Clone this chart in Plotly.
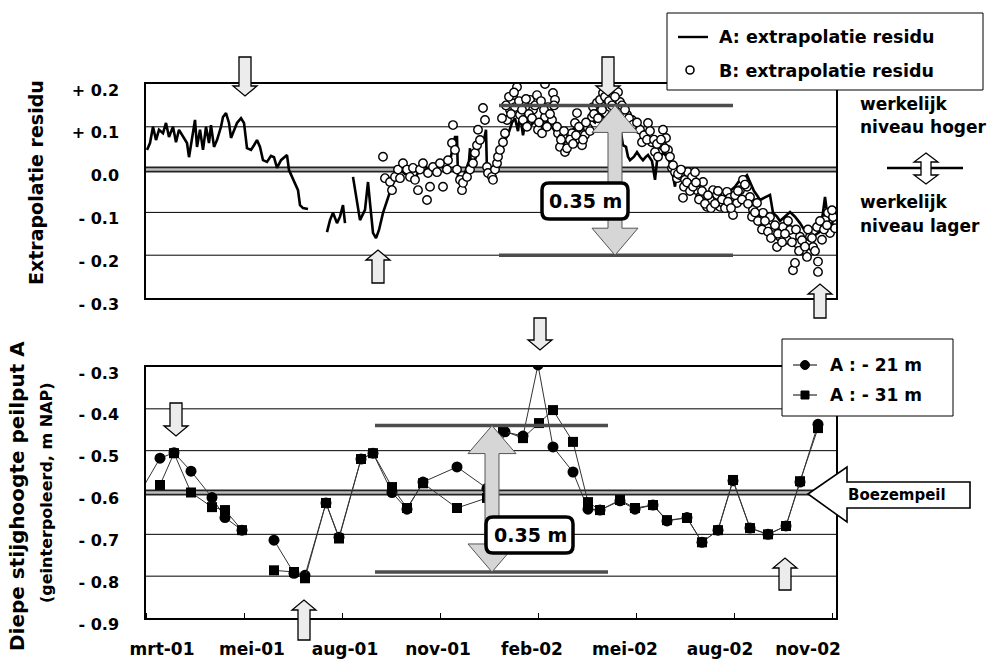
import pandas as pd
import plotly.graph_objects as go

W, H = 994, 664
T0 = pd.Timestamp("2001-01-15")          # day 0 of the series
FONT = "DejaVu Sans"

# ---------------------------------------------------------------- data
# Series A: extrapolation residual (m), daily-ish record, None = gap
a_dag = [1, 4, 7, 10, 13, 17, 20, 23, 27, 30, 33, 37, 41, 43, 47, 49, 51, 54, 57, 60,
         63, 65, 68, 71, 75, 77, 80, 83, 85, 88, 91, 95, 98, 101, 105, 108, 111, 114, 117, 121,
         125, 128, 131, 135, 138, 141, 143, 146, 149, 152, 154, 157, 162, None,
         181, 184, 187, 191, 194, 197, 199, None,
         207, 211, 214, 219, 222, 224, 227, 230, 233, 237, 241, 244, 247, 251, 254, 259, 264, 269,
         274, 279, 284, 289, 294, 299, 304, 309, 311, 312, 316, 320, 323, 324, 325, 330, 334, 338,
         340, 341, 344, 349, 354, 359, 362, 366, 369, 372, 374, 377, 380, 384, 389, 394, 399, 404,
         409, 414, 419, 424, 429, 431, 434, 439, 444, 449, 454, 459, 464, 467, 471, 474, 477, 480,
         482, 484, 488, 491, 494, 497, 500, 502, 506, 509, 511, 514, 517, 521, 525, 529, 531, 534,
         539, 544, 549, 554, 559, 564, 567, 571, 574, 579, 584, 589, 594, 598, 601, 604, 608, 611,
         614, 619, 624, 627, 631, 634, 639, 644, 649, 654, 658, 661, 664, 667, 671, 674, 677, 679,
         681, 684, 687, 689]
a_res = [0.046, 0.062, 0.100, 0.069, 0.093, 0.085, 0.109, 0.076, 0.100, 0.064, 0.093, 0.076, 0.062, 0.029, 0.085, 0.116, 0.053, 0.093, 0.046, 0.100,
         0.062, 0.104, 0.053, 0.069, 0.100, 0.123, 0.132, 0.109, 0.074, 0.093, 0.109, 0.120, 0.109, 0.050, 0.046, 0.057, 0.069, 0.053, 0.022, 0.018,
         0.032, 0.029, 0.004, 0.022, 0.027, 0.034, -0.001, -0.017, -0.036, -0.048, -0.083, -0.090, -0.092, None,
         -0.146, -0.118, -0.101, -0.125, -0.110, -0.083, -0.125, None,
         -0.017, -0.078, -0.118, -0.094, -0.029, -0.078, -0.148, -0.160, -0.141, -0.101, -0.071, -0.050, -0.031, -0.020, 0.000, -0.010, -0.005, -0.020,
         0.000, 0.010, -0.010, 0.005, 0.010, 0.000, 0.020, 0.076, 0.076, -0.020, -0.030, 0.000, 0.020, 0.050, 0.000, 0.030, 0.060, 0.070,
         0.093, -0.008, 0.000, 0.010, 0.040, 0.070, 0.081, 0.110, 0.120, 0.090, 0.130, 0.080, 0.120, 0.100, 0.115, 0.090, 0.120, 0.105,
         0.090, 0.075, 0.060, 0.080, 0.100, 0.109, 0.090, 0.100, 0.120, 0.110, 0.130, 0.120, 0.135, 0.140, 0.130, 0.100, 0.057, 0.053,
         0.030, 0.022, 0.030, 0.041, 0.030, 0.022, 0.030, 0.034, 0.020, -0.024, 0.020, 0.030, 0.039, 0.030, 0.010, -0.040, 0.000, -0.010,
         -0.030, -0.020, -0.040, -0.050, -0.060, -0.050, -0.055, -0.070, -0.080, -0.060, -0.050, -0.040, -0.024, -0.020, -0.013, -0.030, -0.050, -0.060,
         -0.071, -0.065, -0.059, -0.101, -0.110, -0.120, -0.110, -0.099, -0.110, -0.125, -0.140, -0.148, -0.150, -0.157, -0.150, -0.145, -0.100, -0.064,
         -0.100, -0.141, -0.120, -0.110]

# Series B: extrapolation residual (m), individual readings
b_dag = [237, 239, 244, 246, 249, 252, 254, 257, 261, 264, 267, 269, 272, 274, 277, 281, 282, 284, 287, 291,
         294, 297, 301, 302, 306, 307, 309, 311, 314, 316, 317, 321, 324, 327, 329, 331, 332, 334, 337, 339,
         341, 342, 346, 347, 349, 351, 352, 354, 357, 359, 361, 364, 366, 367, 371, 369, 374, 377, 381, 384,
         387, 391, 392, 396, 399, 399, 402, 406, 407, 409, 412, 414, 417, 419, 422, 426, 429, 431, 434, 436,
         439, 442, 446, 447, 451, 454, 457, 461, 464, 472, 474, 481, 486, 489, 494, 496, 499, 502, 506, 509,
         512, 516, 517, 520, 522, 526, 529, 531, 534, 537, 539, 542, 546, 549, 551, 554, 557, 561, 564, 567,
         571, 574, 577, 581, 584, 587, 591, 594, 597, 601, 604, 607, 611, 614, 617, 621, 624, 627, 631, 634,
         637, 641, 644, 647, 649, 651, 654, 657, 661, 664, 667, 671, 672, 672, 676, 679, 682, 684, 687, 689,
         356, 360, 363, 365, 368, 373, 376, 380, 383, 386, 389, 393, 395, 398, 401, 404, 408, 411, 415, 418,
         421, 424, 427, 430, 433, 437, 440, 444, 448, 452, 456, 459, 463, 466, 469, 476, 479, 483, 487, 491,
         498, 501, 504, 508, 511, 515, 519, 524, 527, 532, 535, 538, 541, 544, 547, 550, 553, 556, 559, 562,
         565, 569, 572, 576, 579, 582, 585, 589, 592, 596, 599, 602, 606, 609, 612, 616, 619, 622, 625, 629,
         632, 636, 639, 642, 646, 650, 653, 656, 659, 662, 666, 669, 674, 678, 681, 686]
b_res = [0.030, -0.020, -0.029, -0.048, -0.017, 0.000, -0.020, 0.015, 0.000, -0.017, 0.004, -0.024, -0.048, 0.000, 0.015, -0.071, -0.008, -0.040, 0.006, -0.006,
         0.015, -0.040, 0.000, 0.022, 0.062, 0.104, 0.046, 0.000, -0.024, -0.048, -0.031, -0.017, 0.000, 0.015, 0.039, 0.057, 0.093, 0.069, 0.144, 0.116,
         0.006, -0.008, -0.017, -0.024, 0.000, 0.015, 0.030, 0.046, 0.064, 0.085, 0.116, 0.140, 0.158, 0.174, 0.193, 0.146, 0.128, 0.116, 0.100, 0.163,
         0.140, 0.174, 0.093, 0.085, 0.200, 0.123, 0.146, 0.116, 0.179, 0.163, 0.085, 0.053, 0.076, 0.041, 0.057, 0.085, 0.109, 0.132, 0.069, 0.057,
         0.081, 0.097, 0.123, 0.146, 0.156, 0.163, 0.179, 0.163, 0.146, 0.181, 0.158, 0.128, 0.116, 0.100, 0.093, 0.064, 0.081, 0.109, 0.064, 0.041,
         0.030, 0.057, 0.093, 0.074, 0.046, 0.004, -0.006, -0.020, -0.013, -0.066, -0.024, -0.006, -0.017, -0.006, -0.048, -0.064, -0.029, -0.087, -0.071, -0.048,
         -0.059, -0.087, -0.078, -0.052, -0.066, -0.106, -0.078, -0.048, -0.024, -0.040, -0.064, -0.094, -0.078, -0.118, -0.101, -0.134, -0.111, -0.153, -0.181, -0.157,
         -0.134, -0.164, -0.141, -0.235, -0.218, -0.172, -0.157, -0.188, -0.204, -0.157, -0.181, -0.134, -0.215, -0.239, -0.164, -0.118, -0.101, -0.148, -0.111, -0.137,
         0.120, 0.150, 0.170, 0.130, 0.180, 0.160, 0.140, 0.165, 0.130, 0.120, 0.150, 0.110, 0.160, 0.140, 0.100, 0.130, 0.150, 0.100, 0.070, 0.090,
         0.050, 0.070, 0.060, 0.080, 0.100, 0.070, 0.110, 0.090, 0.130, 0.120, 0.140, 0.170, 0.160, 0.150, 0.170, 0.150, 0.140, 0.120, 0.105, 0.110,
         0.080, 0.070, 0.090, 0.070, 0.060, 0.070, 0.050, 0.030, 0.010, -0.010, 0.000, -0.040, -0.030, -0.050, -0.040, -0.030, -0.070, -0.050, -0.080, -0.060,
         -0.090, -0.080, -0.050, -0.070, -0.090, -0.075, -0.090, -0.060, -0.050, -0.070, -0.035, -0.080, -0.110, -0.100, -0.120, -0.140, -0.120, -0.145, -0.160, -0.130,
         -0.150, -0.170, -0.150, -0.120, -0.170, -0.140, -0.190, -0.165, -0.180, -0.140, -0.160, -0.190, -0.120, -0.140, -0.130, -0.095]

# Deep piezometer A, filter at -21 m and -31 m (m NAP)
p21_dag = [-6, 14, 28, 45, 66, 79, 96, None, 128, 148, 159, 180, 193, 215, 227, 246, 261, 277, 311, 341,
           359, 377, 392, 407, 427, 442, 454, 474, 489, 507, 521, 541, 556, 572, 587, 604, 622, 640, 654, 672]
p21_niv = [-0.600, -0.518, -0.505, -0.549, -0.612, -0.660, -0.690, None, -0.714, -0.793, -0.798, -0.625, -0.707, -0.520, -0.506, -0.600, -0.640, -0.575, -0.539, -0.590,
           -0.455, -0.465, -0.295, -0.491, -0.551, -0.640, -0.642, -0.620, -0.640, -0.630, -0.668, -0.660, -0.719, -0.690, -0.572, -0.685, -0.700, -0.680, -0.575, -0.437]
p31_dag = [14, 28, 45, 66, 79, 96, None, 128, 148, 159, 180, 193, 215, 227, 246, 261, 277, 311, 341,
           357, 377, 393, 407, 427, 442, 454, 474, 489, 507, 521, 541, 556, 572, 587, 604, 622, 640, 654, 672]
p31_niv = [-0.582, -0.506, -0.600, -0.635, -0.642, -0.690, None, -0.786, -0.790, -0.805, -0.625, -0.710, -0.520, -0.506, -0.587, -0.637, -0.578, -0.637, -0.613,
           -0.452, -0.470, -0.434, -0.403, -0.479, -0.623, -0.642, -0.618, -0.637, -0.630, -0.666, -0.661, -0.719, -0.690, -0.570, -0.685, -0.700, -0.680, -0.573, -0.446]

# reference levels and the 0.35 m ranges
res_ref = 0.0
res_band = [0.15, -0.20]
res_band_dag = [353, 587]
boezem = -0.6
niv_band = [-0.44, -0.79]
niv_band_dag = [229, 462]

x_tick_dag = [16, 106, 199, 292, 386, 479, 574, 662]
x_tick_txt = ["mrt-01", "mei-01", "aug-01", "nov-01", "feb-02", "mei-02", "aug-02", "nov-02"]
res_ticks = [0.2, 0.1, 0.0, -0.1, -0.2, -0.3]
res_ticktxt = ["+ 0.2", "+ 0.1", "0.0", "- 0.1", "- 0.2", "- 0.3"]
niv_ticks = [-0.3, -0.4, -0.5, -0.6, -0.7, -0.8, -0.9]
niv_ticktxt = ["- 0.3", "- 0.4", "- 0.5", "- 0.6", "- 0.7", "- 0.8", "- 0.9"]
x_span_days = 690


# ---------------------------------------------------------------- helpers
def to_date(d):
    return None if d is None else (T0 + pd.Timedelta(days=d)).strftime("%Y-%m-%d")


def dates(days):
    return [to_date(d) for d in days]


def X(px):
    return px / W


def Y(py):
    return 1 - py / H


def path_px(pts):
    return "M " + " L ".join(f"{X(x):.5f},{Y(y):.5f}" for x, y in pts) + " Z"


def v_arrow(cx, y_tail, y_tip, shaft=12, head=24, hl=10):
    s = 1 if y_tip > y_tail else -1
    base = y_tip - s * hl
    return [(cx - shaft / 2, y_tail), (cx + shaft / 2, y_tail), (cx + shaft / 2, base),
            (cx + head / 2, base), (cx, y_tip), (cx - head / 2, base), (cx - shaft / 2, base)]


def big_arrow_path(cx, v_top, v_bot, shaft, head, hl):
    # x in paper fraction (from pixels), y in data units
    pts = [(cx, v_top), (cx + head / 2, v_top - hl), (cx + shaft / 2, v_top - hl),
           (cx + shaft / 2, v_bot + hl), (cx + head / 2, v_bot + hl), (cx, v_bot),
           (cx - head / 2, v_bot + hl), (cx - shaft / 2, v_bot + hl),
           (cx - shaft / 2, v_top - hl), (cx - head / 2, v_top - hl)]
    return "M " + " L ".join(f"{X(x):.5f},{y:.5f}" for x, y in pts) + " Z"


def round_rect(x0, y0, x1, y1, r):
    p = lambda x, y: f"{X(x):.5f},{Y(y):.5f}"
    return (f"M {p(x0 + r, y0)} L {p(x1 - r, y0)} Q {p(x1, y0)} {p(x1, y0 + r)} "
            f"L {p(x1, y1 - r)} Q {p(x1, y1)} {p(x1 - r, y1)} L {p(x0 + r, y1)} "
            f"Q {p(x0, y1)} {p(x0, y1 - r)} L {p(x0, y0 + r)} Q {p(x0, y0)} {p(x0 + r, y0)} Z")


def bold(size):
    return dict(family=FONT, size=size, color="black", weight="bold")


# ---------------------------------------------------------------- traces
fig = go.Figure()
fig.add_trace(go.Scatter(x=dates(a_dag), y=a_res, mode="lines", xaxis="x2", yaxis="y2",
                         line=dict(color="black", width=2.6), connectgaps=False,
                         name="A: extrapolatie residu"))
fig.add_trace(go.Scatter(x=dates(b_dag), y=b_res, mode="markers", xaxis="x2", yaxis="y2",
                         marker=dict(symbol="circle", size=8.5, color="white",
                                     line=dict(color="black", width=1.4)),
                         name="B: extrapolatie residu"))
fig.add_trace(go.Scatter(x=dates(p21_dag), y=p21_niv, mode="lines+markers", connectgaps=False,
                         line=dict(color="#333333", width=1),
                         marker=dict(symbol="circle", size=11, color="black"),
                         name="A : - 21 m"))
fig.add_trace(go.Scatter(x=dates(p31_dag), y=p31_niv, mode="lines+markers", connectgaps=False,
                         line=dict(color="#333333", width=1),
                         marker=dict(symbol="square", size=10, color="black"),
                         name="A : - 31 m"))

# ---------------------------------------------------------------- axes
x_dom = [X(146), X(836)]
x_range = [to_date(0), to_date(x_span_days)]
common_x = dict(domain=x_dom, range=x_range, type="date", showgrid=False, zeroline=False,
                showline=True, linecolor="black", linewidth=1.5, mirror=True, ticks="",
                automargin=False)
common_y = dict(ticks="", tickfont=bold(16), ticklabelstandoff=22, ticklabelshift=6,
                showgrid=False, zeroline=False, automargin=False,
                showline=True, linecolor="black", linewidth=1.5, mirror=True)
fig.update_layout(
    xaxis=dict(**common_x, anchor="y", tickvals=dates(x_tick_dag), ticktext=x_tick_txt,
               tickfont=bold(17), ticklabelstandoff=15,
               minor=dict(ticks="inside", ticklen=5, tickwidth=1, tickcolor="black",
                          tick0=to_date(0), dtick=98 * 86400000)),
    xaxis2=dict(**common_x, anchor="y2", showticklabels=False),
    yaxis=dict(**common_y, domain=[Y(618), Y(367)], range=[-0.9, -0.3], anchor="x",
               tickvals=niv_ticks, ticktext=niv_ticktxt),
    yaxis2=dict(**common_y, domain=[Y(298), Y(84)], range=[-0.3, 0.2], anchor="x2",
                tickvals=res_ticks, ticktext=res_ticktxt),
    width=W, height=H, margin=dict(l=0, r=0, t=0, b=0, pad=0, autoexpand=False),
    paper_bgcolor="white", plot_bgcolor="white", showlegend=False,
    font=dict(family=FONT, color="black"),
)

# ---------------------------------------------------------------- shapes
shapes = []
# horizontal grid lines
for v in res_ticks[1:-1]:
    if v != res_ref:
        shapes.append(dict(type="line", xref="x2 domain", yref="y2", x0=0, x1=1, y0=v, y1=v,
                           line=dict(color="black", width=1), layer="below"))
for v in niv_ticks[1:-1]:
    if v != boezem:
        shapes.append(dict(type="line", xref="x domain", yref="y", x0=0, x1=1, y0=v, y1=v,
                           line=dict(color="black", width=1), layer="below"))
# reference levels: thick grey band with dark edges
for xr, yr, v in [("x2 domain", "y2", res_ref), ("x domain", "y", boezem)]:
    shapes.append(dict(type="line", xref=xr, yref=yr, x0=0, x1=1, y0=v, y1=v,
                       line=dict(color="#222222", width=6), layer="below"))
    shapes.append(dict(type="line", xref=xr, yref=yr, x0=0, x1=1, y0=v, y1=v,
                       line=dict(color="#bdbdbd", width=2.5), layer="below"))
# 0.35 m range bars
for v in res_band:
    shapes.append(dict(type="line", xref="x2", yref="y2", x0=to_date(res_band_dag[0]),
                       x1=to_date(res_band_dag[1]), y0=v, y1=v,
                       line=dict(color="#4d4d4d", width=3.5), layer="above"))
for v in niv_band:
    shapes.append(dict(type="line", xref="x", yref="y", x0=to_date(niv_band_dag[0]),
                       x1=to_date(niv_band_dag[1]), y0=v, y1=v,
                       line=dict(color="#4d4d4d", width=3.5), layer="above"))
# big double arrows spanning the 0.35 m ranges
shapes.append(dict(type="path", xref="paper", yref="y2",
                   path=big_arrow_path(615, res_band[0], res_band[1], 14, 46, 27 / 428),
                   fillcolor="#d6d6d6", line=dict(color="#555555", width=1), layer="above"))
shapes.append(dict(type="path", xref="paper", yref="y",
                   path=big_arrow_path(492, niv_band[0], niv_band[1], 14, 48, 28 / 418),
                   fillcolor="#d6d6d6", line=dict(color="#555555", width=1), layer="above"))
# labels boxes "0.35 m"
for box in [(542, 183, 628, 219), (486, 517, 573, 553)]:
    shapes.append(dict(type="path", xref="paper", yref="paper", path=round_rect(*box, 7),
                       fillcolor="white", line=dict(color="black", width=3.5), layer="above"))
# small marker arrows
for cx, yt, yp in [(245, 57, 96), (608, 57, 96), (378, 283, 250), (820, 318, 284),
                   (176, 403, 436), (304, 640, 600), (540, 318, 350), (785, 590, 558)]:
    shapes.append(dict(type="path", xref="paper", yref="paper", path=path_px(v_arrow(cx, yt, yp)),
                       fillcolor="#ececec", line=dict(color="black", width=1.3), layer="above"))
# "Boezempeil" pointer
shapes.append(dict(type="path", xref="paper", yref="paper",
                   path=path_px([(808, 494), (847, 467), (847, 482), (970, 482),
                                 (970, 508), (847, 508), (847, 522)]),
                   fillcolor="white", line=dict(color="black", width=1.6), layer="above"))
# higher / lower indicator on the right
shapes.append(dict(type="line", xref="paper", yref="paper", x0=X(887), x1=X(963), y0=Y(168), y1=Y(168),
                   line=dict(color="black", width=2.5), layer="above"))
shapes.append(dict(type="path", xref="paper", yref="paper",
                   path=path_px([(926, 153), (938, 162), (931, 162), (931, 175), (938, 175), (926, 184),
                                 (914, 175), (921, 175), (921, 162), (914, 162)]),
                   fillcolor="white", line=dict(color="black", width=1.3), layer="above"))
# legend boxes
shapes.append(dict(type="rect", xref="paper", yref="paper", x0=X(667), x1=X(983), y0=Y(13), y1=Y(90),
                   fillcolor="white", line=dict(color="black", width=1), layer="above"))
shapes.append(dict(type="rect", xref="paper", yref="paper", x0=X(782), x1=X(953), y0=Y(339), y1=Y(416),
                   fillcolor="white", line=dict(color="black", width=1), layer="above"))
# legend samples
shapes.append(dict(type="line", xref="paper", yref="paper", x0=X(678), x1=X(708), y0=Y(37), y1=Y(37),
                   line=dict(color="black", width=2.4), layer="above"))
shapes.append(dict(type="circle", xref="paper", yref="paper", x0=X(686), x1=X(694), y0=Y(66), y1=Y(74),
                   fillcolor="white", line=dict(color="black", width=1.6), layer="above"))
for yy in (365, 395):
    shapes.append(dict(type="line", xref="paper", yref="paper", x0=X(793), x1=X(817), y0=Y(yy), y1=Y(yy),
                       line=dict(color="black", width=1), layer="above"))
shapes.append(dict(type="circle", xref="paper", yref="paper", x0=X(800.5), x1=X(809.5), y0=Y(360.5), y1=Y(369.5),
                   fillcolor="black", line=dict(color="black", width=1), layer="above"))
shapes.append(dict(type="rect", xref="paper", yref="paper", x0=X(801), x1=X(809), y0=Y(391), y1=Y(399),
                   fillcolor="black", line=dict(color="black", width=1), layer="above"))
fig.update_layout(shapes=shapes)

# ---------------------------------------------------------------- texts
ann = []


def txt(text, x, y, size, xanchor="center", angle=0):
    ann.append(dict(text=text, x=X(x), y=Y(y), xref="paper", yref="paper", showarrow=False,
                    xanchor=xanchor, yanchor="middle", textangle=angle, font=bold(size)))


txt("Extrapolatie residu", 36, 183, 19, angle=-90)
txt("Diepe stijghoogte peilput A", 17, 496, 20, angle=-90)
txt("(geinterpoleerd, m NAP)", 46, 493, 16, angle=-90)
txt("0.35 m", 585, 201, 19)
txt("0.35 m", 530, 535, 19)
txt("Boezempeil", 897, 495, 15)
txt("werkelijk", 858, 104, 17, xanchor="left")
txt("niveau hoger", 858, 127, 17, xanchor="left")
txt("werkelijk", 858, 202, 17, xanchor="left")
txt("niveau lager", 858, 226, 17, xanchor="left")
txt("A: extrapolatie residu", 717, 37, 17.5, xanchor="left")
txt("B: extrapolatie residu", 717, 71, 17.5, xanchor="left")
txt("A : - 21 m", 828, 365, 17, xanchor="left")
txt("A : - 31 m", 828, 395, 17, xanchor="left")
fig.update_layout(annotations=ann)

fig.write_html("out.html")
